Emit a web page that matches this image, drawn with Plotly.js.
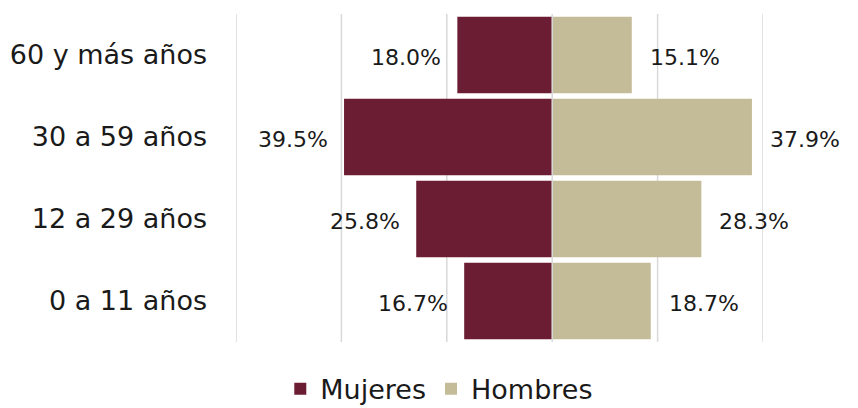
<!DOCTYPE html>
<html>
<head>
<meta charset="utf-8">
<script src="https://cdn.plot.ly/plotly-3.0.1.min.js"></script>
<style>html,body{margin:0;padding:0;background:#fff;}#chart{width:858px;height:408px;}</style>
</head>
<body>
<div id="chart"></div>
<script>
const categories = ["0 a 11 años", "12 a 29 años", "30 a 59 años", "60 y más años"];
const mujeres = [16.7, 25.8, 39.5, 18.0];
const hombres = [18.7, 28.3, 37.9, 15.1];
const seriesNames = ["Mujeres", "Hombres"];
const gridTicks = [-60, -40, -20, 0, 20, 40];

const FONT = "DejaVu Sans, sans-serif";
const colM = "#6B1D33";
const colH = "#C4BB98";
const GRID = "#d9d9d9";
const fmt = v => v.toFixed(1) + "%";

const traces = [
  {
    type: "bar", orientation: "h", name: seriesNames[0],
    y: categories, x: mujeres.map(v => -v),
    marker: {color: colM}, hoverinfo: "skip"
  },
  {
    type: "bar", orientation: "h", name: seriesNames[1],
    y: categories, x: hombres,
    marker: {color: colH}, hoverinfo: "skip"
  }
];

const annotations = [];
categories.forEach((c, i) => {
  annotations.push({
    x: -mujeres[i], y: c, xref: "x", yref: "y", text: fmt(mujeres[i]),
    showarrow: false, xanchor: "right", xshift: -14, yshift: -2,
    font: {family: FONT, size: 22, color: "#1a1a1a"}
  });
  annotations.push({
    x: hombres[i], y: c, xref: "x", yref: "y", text: fmt(hombres[i]),
    showarrow: false, xanchor: "left", xshift: 16, yshift: -2,
    font: {family: FONT, size: 22, color: "#1a1a1a"}
  });
});

const shapes = gridTicks.map(t => ({
  type: "line", xref: "x", yref: "paper", x0: t, x1: t, y0: 0, y1: 1,
  line: {color: GRID, width: 1.5}, layer: t === 0 ? "above" : "below"
}));

const layout = {
  width: 858, height: 408,
  margin: {l: 236, r: 95, t: 14, b: 66, pad: 0, autoexpand: false},
  paper_bgcolor: "#fff", plot_bgcolor: "#fff",
  barmode: "relative", bargap: 0.07,
  showlegend: true,
  legend: {
    orientation: "h", xref: "container", yref: "container",
    x: 0.512, xanchor: "center", y: 0.046, yanchor: "middle",
    font: {family: FONT, size: 27, color: "#1a1a1a"},
    traceorder: "normal", itemwidth: 30
  },
  xaxis: {
    range: [-60, 40], showticklabels: false,
    showgrid: false, zeroline: false, showline: false, ticks: "", fixedrange: true
  },
  yaxis: {
    type: "category", categoryorder: "array", categoryarray: categories,
    showgrid: false, zeroline: false, showline: false, ticks: "",
    ticklabelstandoff: 28,
    tickfont: {family: FONT, size: 27, color: "#1a1a1a"}, fixedrange: true
  },
  shapes: shapes,
  annotations: annotations,
  font: {family: FONT}
};

Plotly.newPlot("chart", traces, layout, {displayModeBar: false, staticPlot: true});
</script>
</body>
</html>
